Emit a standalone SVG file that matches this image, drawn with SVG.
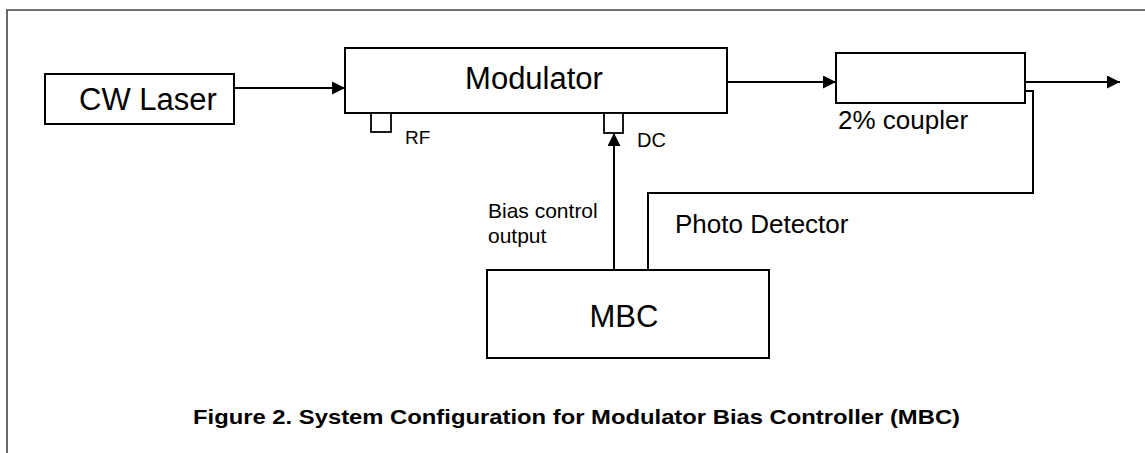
<svg xmlns="http://www.w3.org/2000/svg" width="1145" height="453" viewBox="0 0 1145 453">
<defs>
<marker id="ah" markerWidth="13" markerHeight="13" refX="13" refY="6.5" orient="auto" markerUnits="userSpaceOnUse">
<path d="M0,0 L13,6.5 L0,13 Z" fill="#000"/>
</marker>
<style>
.box{fill:#fff;stroke:#000;stroke-width:2}
.port{fill:#fff;stroke:#000;stroke-width:1.8}
.ln{fill:none;stroke:#000;stroke-width:2}
.t{font-family:"Liberation Sans",Arial,sans-serif;fill:#000}
</style>
</defs>
<rect width="1145" height="453" fill="#fff"/>
<path d="M7,453 V10 H1145" fill="none" stroke="#444" stroke-width="1.6"/>
<g id="connectors">
<path class="ln" d="M234,88 H345" marker-end="url(#ah)"/>
<path class="ln" d="M727,82 H836" marker-end="url(#ah)"/>
<path class="ln" d="M1025,82 H1120" marker-end="url(#ah)"/>
<path class="ln" d="M614,270 V133" marker-end="url(#ah)"/>
<path class="ln" d="M648,270 V193 H1033 V91 H1025"/>
</g>
<g id="cw-laser">
<rect class="box" x="45" y="74" width="189" height="50"/>
<text class="t" x="79" y="110" font-size="31">CW Laser</text>
</g>
<g id="modulator">
<rect class="box" x="345" y="48" width="382" height="65"/>
<text class="t" x="534" y="89" font-size="31" text-anchor="middle">Modulator</text>
</g>
<g id="rf-port">
<rect class="port" x="371" y="113" width="20" height="19"/>
<text class="t" x="405" y="144" font-size="19">RF</text>
</g>
<g id="dc-port">
<rect class="port" x="604" y="113" width="19" height="20"/>
<text class="t" x="637" y="147" font-size="20">DC</text>
</g>
<g id="coupler">
<rect class="box" x="836" y="53" width="189" height="50"/>
<text class="t" x="838" y="129" font-size="26">2% coupler</text>
</g>
<g id="mbc">
<rect class="box" x="487" y="270" width="282" height="88"/>
<text class="t" x="624" y="327" font-size="31" text-anchor="middle">MBC</text>
</g>
<g id="labels">
<text class="t" x="488" y="218" font-size="21">Bias control</text>
<text class="t" x="488" y="243" font-size="21">output</text>
<text class="t" x="675" y="233" font-size="26">Photo Detector</text>
</g>
<text class="t" x="193" y="424" font-size="21" font-weight="bold" textLength="767" lengthAdjust="spacingAndGlyphs">Figure 2. System Configuration for Modulator Bias Controller (MBC)</text>
</svg>
